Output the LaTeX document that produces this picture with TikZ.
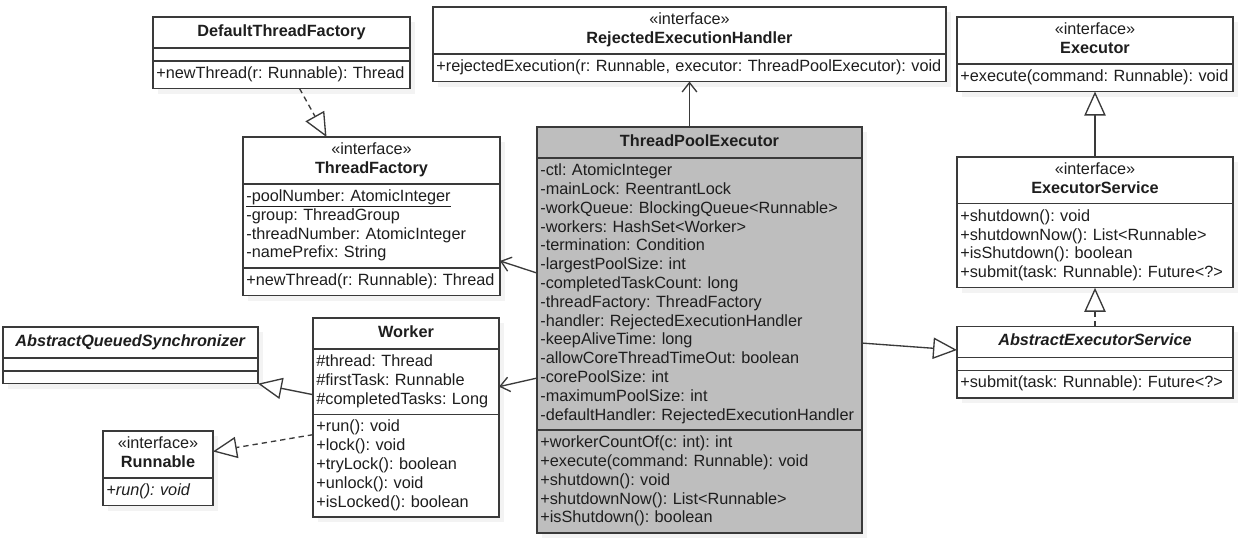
\documentclass[tikz,border=0pt]{standalone}
\usepackage{fontspec}
\setmainfont{Liberation Sans}
\usetikzlibrary{positioning,calc,arrows.meta,shadows}
\definecolor{umlline}{HTML}{3A3A3A}
\definecolor{umltext}{HTML}{1E1E1E}
\definecolor{umlfill}{HTML}{BEBEBE}
\newcommand{\umlfont}{\fontsize{12.2}{14.1}\selectfont\frenchspacing}
\newcommand{\stereo}{«interface»}

\tikzset{
  umlbox/.style={draw=umlline, fill=white, line width=1pt, outer sep=0pt,
    inner xsep=2.5pt, font=\umlfont, text=umltext, text width=#1,
    drop shadow={shadow xshift=4pt, shadow yshift=-4pt, fill=black!9}},
  row/.style={execute at begin node=\strut, execute at end node=\strut},
  head/.style={umlbox=#1, row, align=center, inner ysep=4.6pt},
  iface/.style={umlbox=#1, row, align=center, inner ysep=3.5pt},
  members/.style={umlbox=#1, row, align=left, inner ysep=3.3pt},
  blank/.style={umlbox=#1, inner ysep=4.8pt},
  assoc/.style={draw=umlline, line width=1pt, -{Straight Barb[length=7pt,width=11pt]}},
  extends/.style={draw=umlline, line width=1pt, -{Triangle[open,length=18pt,width=16pt,fill=white]}},
  implements/.style={extends, dash pattern=on 4pt off 3pt},
}

\begin{document}
\begin{tikzpicture}[x=0.75pt, y=-0.75pt]
	\useasboundingbox (0,0) rectangle (1242,544);

	% factories
	\node[head=187.75pt, anchor=north west] (dtf) at (153,17) {\textbf{DefaultThreadFactory}};
	\node[blank=187.75pt, below=0pt of dtf] (dtf-a) {};
	\node[members=187.75pt, below=0pt of dtf-a] (dtf-o) {+newThread(r: Runnable): Thread};

	\node[iface=187.75pt, anchor=north west] (tf) at (243,137) {\stereo\\\textbf{ThreadFactory}};
	\node[members=187.75pt, below=0pt of tf] (tf-a) {\underline{-poolNumber: AtomicInteger}\\-group: ThreadGroup\\-threadNumber: AtomicInteger\\-namePrefix: String};
	\node[members=187.75pt, below=0pt of tf-a] (tf-o) {+newThread(r: Runnable): Thread};

	\node[iface=379.75pt, anchor=north west] (reh) at (433,7) {\stereo\\\textbf{RejectedExecutionHandler}};
	\node[members=379.75pt, below=0pt of reh] (reh-o) {+rejectedExecution(r: Runnable, executor: ThreadPoolExecutor): void};

	% executor hierarchy
	\node[iface=202pt, anchor=north west] (exec) at (957,17) {\stereo\\\textbf{Executor}};
	\node[members=202pt, below=0pt of exec] (exec-o) {+execute(command: Runnable): void};
	\node[iface=202pt, below=49pt of exec-o] (execsrv) {\stereo\\\textbf{ExecutorService}};
	\node[members=202pt, below=0pt of execsrv] (execsrv-o) {+shutdown(): void\\+shutdownNow(): List<Runnable>\\+isShutdown(): boolean\\+submit(task: Runnable): Future<?>};
	\node[head=202pt, below=29pt of execsrv-o] (aes) {\textbf{\textit{AbstractExecutorService}}};
	\node[blank=202pt, below=0pt of aes] (aes-a) {};
	\node[members=202pt, below=0pt of aes-a] (aes-o) {+submit(task: Runnable): Future<?>};

	% the pool itself
	\node[head=238.75pt, fill=umlfill, anchor=north west] (tpe) at (537,127) {\textbf{ThreadPoolExecutor}};
	\node[members=238.75pt, fill=umlfill, below=0pt of tpe] (tpe-a) {-ctl: AtomicInteger\\-mainLock: ReentrantLock\\-workQueue: BlockingQueue<Runnable>\\-workers: HashSet<Worker>\\-termination: Condition\\-largestPoolSize: int\\-completedTaskCount: long\\-threadFactory: ThreadFactory\\-handler: RejectedExecutionHandler\\-keepAliveTime: long\\-allowCoreThreadTimeOut: boolean\\-corePoolSize: int\\-maximumPoolSize: int\\-defaultHandler: RejectedExecutionHandler};
	\node[members=238.75pt, fill=umlfill, below=0pt of tpe-a] (tpe-o) {+workerCountOf(c: int): int\\+execute(command: Runnable): void\\+shutdown(): void\\+shutdownNow(): List<Runnable>\\+isShutdown(): boolean};

	% worker side
	\node[head=134.5pt, anchor=north west] (worker) at (313,318) {\textbf{Worker}};
	\node[members=134.5pt, below=0pt of worker] (worker-a) {\#thread: Thread\\\#firstTask: Runnable\\\#completedTasks: Long};
	\node[members=134.5pt, below=0pt of worker-a] (worker-o) {+run(): void\\+lock(): void\\+tryLock(): boolean\\+unlock(): void\\+isLocked(): boolean};

	\node[head=186.25pt, anchor=north west] (aqs) at (3,327) {\textbf{\textit{AbstractQueuedSynchronizer}}};
	\node[blank=186.25pt, below=0pt of aqs] (aqs-a) {};
	\node[blank=186.25pt, below=0pt of aqs-a] (aqs-o) {};

	\node[iface=77.5pt, anchor=north west] (run) at (103,431) {\stereo\\\textbf{Runnable}};
	\node[members=77.5pt, below=0pt of run] (run-o) {\textit{+run(): void}};

	% relations
	\draw[implements] ($(dtf-o.south)+(18,0)$) -- ($(tf.north)+(-45,0)$);
	\draw[assoc] (reh-o.south |- tpe.north) -- (reh-o.south);
	\draw[extends] (execsrv.north) -- (exec-o.south);
	\draw[implements] (aes.north) -- (execsrv-o.south);
	\draw[extends] ($(tpe-a.east)+(0,49)$) -- ($(aes.west)+(0,8)$);
	\draw[assoc] ($(tpe-a.west)+(0,-21)$) -- ($(tf-a.east)+(0,35)$);
	\draw[assoc] ($(tpe-a.west)+(0,84)$) -- ($(worker-a.east)+(0,5)$);
	\draw[extends] ($(worker-a.west)+(0,13)$) -- (aqs-o.south east);
	\draw[implements] ($(worker-o.west)+(0,-31)$) -- ($(run.east)+(0,-3)$);
\end{tikzpicture}
\end{document}
